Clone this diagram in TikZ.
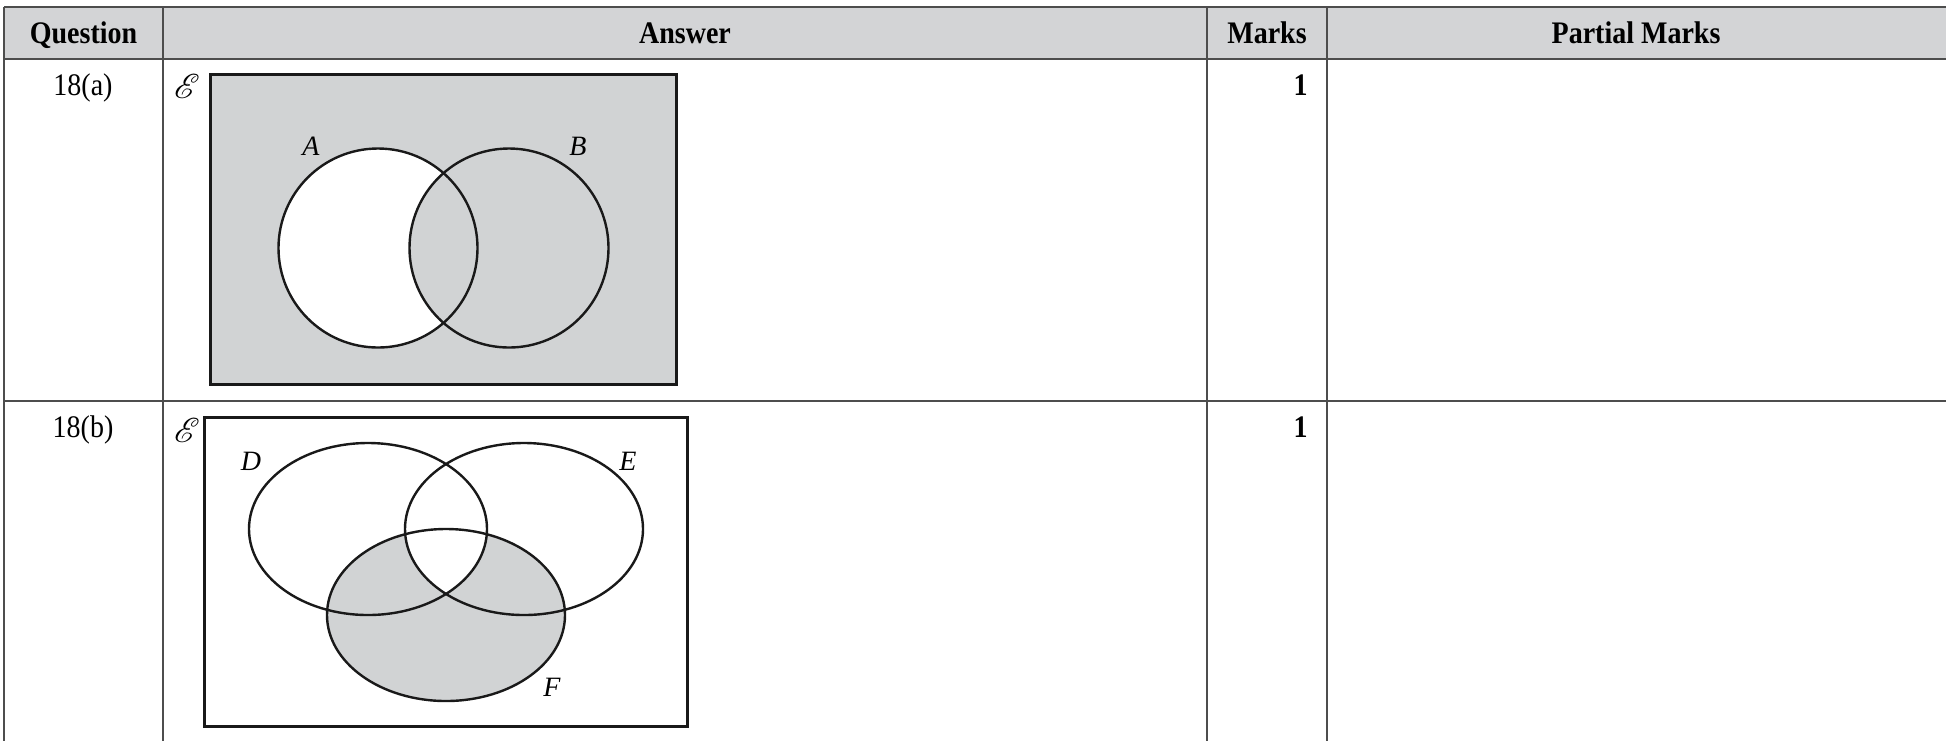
\documentclass[tikz,border=0pt]{standalone}
\usepackage{fontspec}
\setmainfont{Liberation Serif}
\usepackage{mathrsfs}
\definecolor{hdrgray}{HTML}{D3D4D6}
\definecolor{venngray}{HTML}{D1D3D4}
\definecolor{rulegray}{HTML}{4D4D4D}
\newcommand{\tallt}[1]{\scalebox{1}[1.12]{#1}}
\begin{document}
\begin{tikzpicture}[x=0.5pt,y=-0.5pt,
  rule/.style={draw=rulegray,line width=1pt},
  setbox/.style={draw=black!90,line width=1.5pt},
  setline/.style={draw=black!90,line width=1.2pt},
  hdr/.style={font=\fontsize{14}{16}\selectfont\bfseries,anchor=base,inner sep=0},
  cell/.style={font=\fontsize{14}{16}\selectfont,anchor=base,inner sep=0},
  lbl/.style={font=\fontsize{14}{16}\selectfont\itshape,inner sep=0},
  univ/.style={font=\fontsize{17}{19}\selectfont,inner sep=0}]
\useasboundingbox (0,0) rectangle (1946,741);
% table
\fill[hdrgray] (4,7) rectangle (1946,59);
\draw[rule] (4,7) -- (1946,7);
\draw[rule] (4,59) -- (1946,59);
\draw[rule] (4,401) -- (1946,401);
\foreach \x in {4,163,1207,1327} \draw[rule] (\x,7) -- (\x,741);
\node[hdr] (hq) at (83.5,43) {\tallt{Question}};
\node[hdr] (ha) at (685,43) {\tallt{Answer}};
\node[hdr] (hm) at (1267,43) {\tallt{Marks}};
\node[hdr] (hp) at (1636,43) {\tallt{Partial Marks}};
\node[cell] (qa) at (83,95) {\tallt{18(a)}};
\node[cell] (qb) at (83,437) {\tallt{18(b)}};
\node[hdr,anchor=base east] (ma) at (1308,95) {\tallt{1}};
\node[hdr,anchor=base east] (mb) at (1308,437) {\tallt{1}};
% Venn (a)
\coordinate (ca) at (378,248);
\coordinate (cb) at (509,248);
\fill[venngray] (210,74.5) rectangle (676,384.5);
\fill[white] (ca) circle[radius=99.5];
\begin{scope}
  \clip (ca) circle[radius=99.5];
  \fill[venngray] (cb) circle[radius=99.5];
\end{scope}
\draw[setline] (ca) circle[radius=99.5];
\draw[setline] (cb) circle[radius=99.5];
\draw[setbox] (210,74.5) rectangle (676,384.5);
\node[univ] (ua) at (187,86) {$\mathscr{E}$};
\node[lbl] (la) at (311,146) {A};
\node[lbl] (lb) at (578,146) {B};
% Venn (b)
\coordinate (cd) at (368,529);
\coordinate (ce) at (524,529);
\coordinate (cf) at (446,615);
\fill[venngray] (cf) ellipse[x radius=119,y radius=86];
\begin{scope}
  \clip (cd) ellipse[x radius=119,y radius=86];
  \clip (ce) ellipse[x radius=119,y radius=86];
  \fill[white] (cf) ellipse[x radius=119,y radius=86];
\end{scope}
\draw[setline] (cd) ellipse[x radius=119,y radius=86];
\draw[setline] (ce) ellipse[x radius=119,y radius=86];
\draw[setline] (cf) ellipse[x radius=119,y radius=86];
\draw[setbox] (204,417.5) rectangle (687,726.5);
\node[univ] (ub) at (187,430) {$\mathscr{E}$};
\node[lbl] (ld) at (251,461) {D};
\node[lbl] (le) at (628,461) {E};
\node[lbl] (lf) at (552,687) {F};
\end{tikzpicture}
\end{document}
